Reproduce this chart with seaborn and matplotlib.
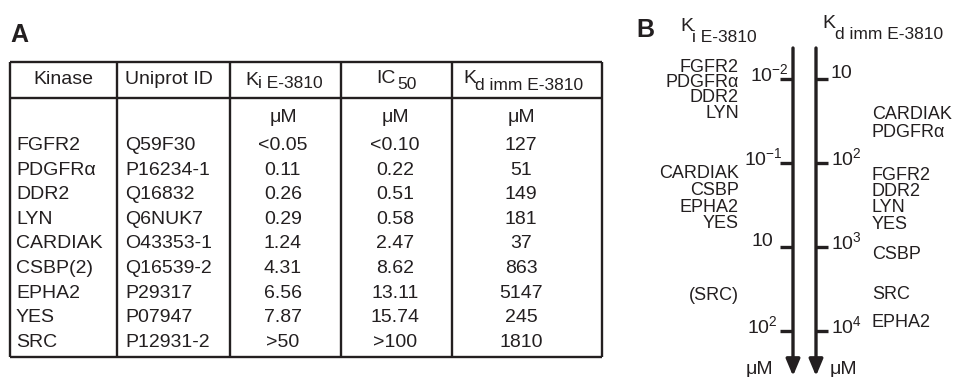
import matplotlib
matplotlib.use('Agg')
import matplotlib.pyplot as plt
import seaborn as sns
import numpy as np

# ---- table data (panel A) ----
kinases = ["FGFR2", "PDGFRα", "DDR2", "LYN", "CARDIAK", "CSBP(2)", "EPHA2", "YES", "SRC"]
uniprot_ids = ["Q59F30", "P16234-1", "Q16832", "Q6NUK7", "O43353-1", "Q16539-2", "P29317", "P07947", "P12931-2"]
ki_values = ["<0.05", "0.11", "0.26", "0.29", "1.24", "4.31", "6.56", "7.87", ">50"]
ic50_values = ["<0.10", "0.22", "0.51", "0.58", "2.47", "8.62", "13.11", "15.74", ">100"]
kd_values = [127, 51, 149, 181, 37, 863, 5147, 245, 1810]

# ---- ladder data (panel B), positions in decades from the top tick ----
ki_ticks = [r"$\mathregular{10^{-2}}$", r"$\mathregular{10^{-1}}$", "10", r"$\mathregular{10^{2}}$"]
kd_ticks = ["10", r"$\mathregular{10^{2}}$", r"$\mathregular{10^{3}}$", r"$\mathregular{10^{4}}$"]
tick_pos = [0, 1, 2, 3]
ki_ladder = ["FGFR2", "PDGFRα", "DDR2", "LYN", "CARDIAK", "CSBP", "EPHA2", "YES", "(SRC)"]
ki_ladder_pos = [-0.16, 0.02, 0.20, 0.39, 1.10, 1.30, 1.50, 1.70, 2.55]
kd_ladder = ["CARDIAK", "PDGFRα", "FGFR2", "DDR2", "LYN", "YES", "CSBP", "SRC", "EPHA2"]
kd_ladder_pos = [0.40, 0.61, 1.12, 1.31, 1.50, 1.71, 2.07, 2.54, 2.87]

INK = '#231f20'

sns.set_theme(style="white")
plt.rcParams['font.family'] = ['Liberation Sans', 'DejaVu Sans']
plt.rcParams['mathtext.fontset'] = 'custom'
plt.rcParams['mathtext.rm'] = 'Liberation Sans'
plt.rcParams['mathtext.it'] = 'Liberation Sans:italic'
plt.rcParams['text.color'] = INK

fig = plt.figure(figsize=(9.58, 3.77), dpi=100)

# panel A drawn in pixel units
ax = fig.add_axes([0, 0, 1, 1])
ax.set_xlim(0, 958)
ax.set_ylim(377, 0)
ax.axis('off')

ax.text(10, 42, "A", fontsize=18, fontweight='bold', va='baseline')

col_edges = [10, 117, 230, 341, 452, 602]
top, sep, bottom = 62, 98, 357
ax.hlines([top, sep, bottom], col_edges[0], col_edges[-1], color=INK, lw=1.7)
ax.vlines(col_edges, top, bottom, color=INK, lw=1.7)

fs = 14
ax.text(63, 84, "Kinase", fontsize=fs, ha='center', va='baseline')
ax.text(125, 84, "Uniprot ID", fontsize=fs, ha='left', va='baseline')
ax.text(245, 85, "K", fontsize=fs, va='baseline')
ax.text(258, 88, "i E-3810", fontsize=12.5, va='baseline')
ax.text(376, 83, "IC", fontsize=fs, va='baseline')
ax.text(397, 89, "50", fontsize=12.5, va='baseline')
ax.text(463, 83, "K", fontsize=fs, va='baseline')
ax.text(475, 90, "d imm E-3810", fontsize=12.5, va='baseline')

centers = [283, 395, 521]
for cx in centers:
    ax.text(cx, 122, "μM", fontsize=fs, ha='center', va='baseline')

row_base = 150
row_step = 24.6
for i in range(len(kinases)):
    y = row_base + i * row_step
    ax.text(16, y, kinases[i], fontsize=fs, va='baseline')
    ax.text(125, y, uniprot_ids[i], fontsize=fs, va='baseline')
    ax.text(centers[0], y, ki_values[i], fontsize=fs, ha='center', va='baseline')
    ax.text(centers[1], y, ic50_values[i], fontsize=fs, ha='center', va='baseline')
    ax.text(centers[2], y, str(kd_values[i]), fontsize=fs, ha='center', va='baseline')

# panel B: x in pixels, y in decades (84 px per decade, top tick at 79 px)
px_dec = 84.0
y0 = 79.0
axb = fig.add_axes([0, 0, 1, 1])
axb.set_xlim(0, 958)
axb.set_ylim((377 - y0) / px_dec, -y0 / px_dec)
axb.axis('off')
axb.patch.set_alpha(0)

def dec(px):
    return px / px_dec

axb.text(636, dec(37 - y0), "B", fontsize=18, fontweight='bold', va='baseline')
axb.text(680, dec(31 - y0), "K", fontsize=14, va='baseline')
axb.text(692, dec(42 - y0), "i E-3810", fontsize=12.5, va='baseline')
axb.text(822, dec(28 - y0), "K", fontsize=14, va='baseline')
axb.text(835, dec(39 - y0), "d imm E-3810", fontsize=12.5, va='baseline')

x_left, x_right = 793, 816
top_b = dec(48 - y0)
tip_b = dec(376 - y0)
for xa in [x_left, x_right]:
    axb.annotate('', xy=(xa, tip_b), xytext=(xa, top_b),
                 arrowprops=dict(arrowstyle='-|>,head_length=1.0,head_width=0.42',
                                 lw=2.4, color=INK, mutation_scale=10,
                                 shrinkA=0, shrinkB=0))

axb.hlines(tick_pos, x_left - 13, x_left, color=INK, lw=2.4)
axb.hlines(tick_pos, x_right, x_right + 12, color=INK, lw=2.4)

left_right_edge = [789, 783, 773, 778]
for p, lab, xr in zip(tick_pos, ki_ticks, left_right_edge):
    axb.text(xr, p - dec(5), lab, fontsize=14, ha='right', va='center')
for p, lab in zip(tick_pos, kd_ticks):
    axb.text(831, p - dec(5), lab, fontsize=14, ha='left', va='center')

cap_half = dec(6.5)
for name, p in zip(ki_ladder, ki_ladder_pos):
    axb.text(739, p + cap_half, name, fontsize=13, ha='right', va='baseline')
for name, p in zip(kd_ladder, kd_ladder_pos):
    axb.text(872, p + cap_half, name, fontsize=13, ha='left', va='baseline')

axb.text(773, dec(374 - y0), "μM", fontsize=14, ha='right', va='baseline')
axb.text(830, dec(374 - y0), "μM", fontsize=14, ha='left', va='baseline')

fig.savefig("out.png", dpi=100)
plt.close(fig)
